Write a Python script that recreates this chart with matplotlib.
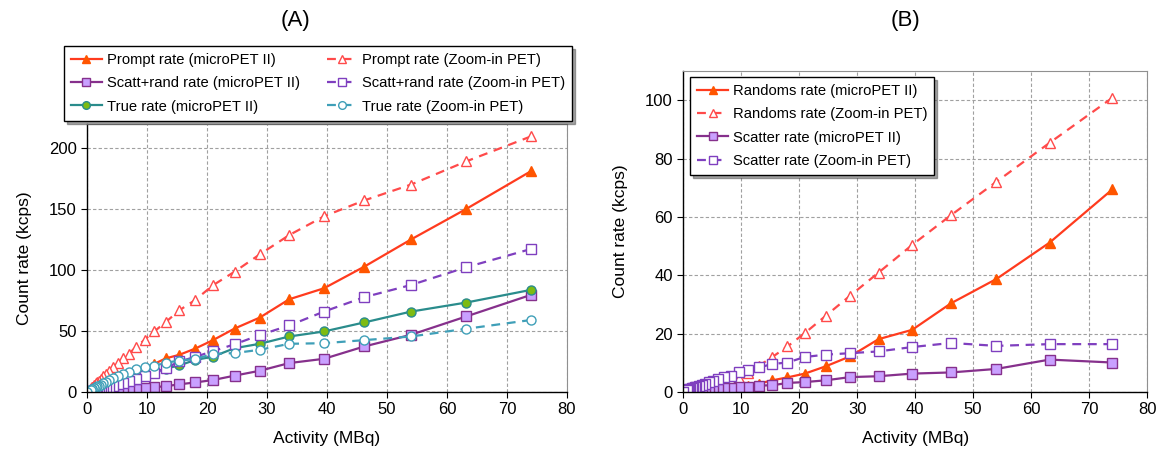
import matplotlib.pyplot as plt

plt.rcParams['font.family'] = ['Liberation Sans', 'DejaVu Sans']

# activity (MBq), shared by all series
activity = [74.0, 63.2, 54.0, 46.2, 39.5, 33.7, 28.8, 24.6, 21.0, 18.0, 15.4, 13.1,
            11.2, 9.6, 8.2, 7.0, 6.0, 5.1, 4.4, 3.7, 3.2, 2.7, 2.3, 2.0, 1.7, 1.5,
            1.2, 1.1, 0.9, 0.8, 0.7, 0.0]

# panel A (kcps)
prompt_micro = [181, 150, 125, 102.7, 85, 76, 61, 52, 42.5, 35.5, 30.5, 27.5,
                23, 20, 17, 14.5, 12.4, 10.5, 9.0, 7.6, 6.6, 5.6, 4.7, 4.1, 3.5, 3.1,
                2.5, 2.3, 1.9, 1.7, 1.4, 0]
prompt_zoom = [209.5, 189, 170, 157, 144, 128.6, 112.8, 98.6, 87.5, 75.3, 67, 57.2,
               49.6, 42.8, 37, 31.5, 27.5, 23.5, 20.5, 17.3, 15, 12.7, 10.8, 9.4, 8, 7,
               5.7, 5.2, 4.3, 3.8, 3.3, 0]
scatt_micro = [79.6, 61.9, 46.9, 37.3, 27.2, 23.7, 17.4, 13.4, 9.8, 7.8, 6.3, 4.7,
               4.0, 3.2, 2.6, 2.1, 1.7, 1.3, 1.1, 0.9, 0.7, 0.6, 0.5, 0.4, 0.3, 0.3,
               0.2, 0.2, 0.1, 0.1, 0.1, 0]
scatt_zoom = [117.2, 102.2, 87.7, 77.7, 65.9, 54.5, 46.7, 39.1, 33.5, 28.7, 25, 19.5,
              15.5, 13, 11, 9, 7.5, 6.3, 5.3, 4.4, 3.8, 3.2, 2.7, 2.3, 2.0, 1.7,
              1.4, 1.2, 1.0, 0.9, 0.8, 0]
true_micro = [83.7, 73.3, 65.9, 57, 49.6, 45.5, 39.5, 35.9, 29, 26.2, 21.8, 19.2,
              16, 13.6, 11.5, 9.8, 8.5, 7.2, 6.2, 5.2, 4.5, 3.8, 3.3, 2.8, 2.4, 2.1,
              1.7, 1.6, 1.3, 1.1, 1.0, 0]
true_zoom = [59, 51.8, 45.5, 42.5, 40, 39.5, 34.6, 31.9, 31.2, 27, 25.7, 24,
             21.5, 20.4, 18.5, 16.2, 14.8, 13, 11.5, 9.8, 8.5, 7.2, 6.1, 5.3, 4.5, 4.0,
             3.2, 2.9, 2.4, 2.1, 1.9, 0]

# panel B (kcps)
randoms_micro = [69.4, 51.2, 38.7, 30.4, 21.3, 18.1, 12.2, 8.8, 6.3, 5.0, 4.0, 2.9,
                 2.2, 1.7, 1.3, 0.95, 0.7, 0.5, 0.4, 0.3, 0.2, 0.15, 0.1, 0.1, 0.1, 0.05,
                 0.05, 0.05, 0.0, 0.0, 0.0, 0]
randoms_zoom = [100.8, 85.4, 72, 60.6, 50.4, 40.9, 33, 26.1, 20.2, 15.6, 12, 9.0,
                6.5, 4.9, 3.7, 2.8, 2.1, 1.6, 1.2, 0.9, 0.7, 0.5, 0.4, 0.3, 0.2, 0.2,
                0.1, 0.1, 0.1, 0.1, 0.0, 0]
scatter_micro = [10.1, 11.1, 7.9, 6.7, 6.3, 5.4, 5.1, 4.0, 3.4, 3.1, 2.3, 2.2,
                 1.8, 1.6, 1.4, 1.2, 1.0, 0.85, 0.75, 0.65, 0.55, 0.45, 0.4, 0.35, 0.3, 0.25,
                 0.2, 0.2, 0.15, 0.13, 0.12, 0]
scatter_zoom = [16.4, 16.4, 15.8, 16.8, 15.4, 13.9, 13.3, 12.8, 12.0, 10.1, 9.6, 8.4,
                7.6, 6.7, 5.6, 5.0, 4.4, 3.8, 3.3, 2.8, 2.5, 2.1, 1.8, 1.6, 1.4, 1.2,
                1.0, 0.9, 0.75, 0.65, 0.6, 0]

RED = '#FF3B1E'
RED_FACE = '#FF5500'
RED_LIGHT = '#FF4A4A'
PURPLE = '#86308C'
PURPLE_FACE = '#C9A0FF'
PURPLE_DASH = '#7F3FBF'
TEAL = '#2A8C8C'
GREEN = '#7DBB12'
TEAL_LIGHT = '#3F9FB8'

fig = plt.figure(figsize=(11.68, 4.61), dpi=100)
axA = fig.add_axes([0.0745, 0.1497, 0.4109, 0.5822])
axB = fig.add_axes([0.5848, 0.1497, 0.3973, 0.6963])


def style_axes(ax, ymax, ystep):
    ax.set_xlim(0, 80)
    ax.set_ylim(0, ymax)
    ax.set_xticks(range(0, 81, 10))
    ax.set_yticks(range(0, ymax, ystep))
    ax.grid(True, color='#A0A0A0', linestyle=(0, (3, 2)), linewidth=0.8)
    ax.set_axisbelow(True)
    for s in ('top', 'right'):
        ax.spines[s].set_color('#909090')
        ax.spines[s].set_linewidth(0.8)
    for s in ('left', 'bottom'):
        ax.spines[s].set_linewidth(1.0)
    ax.tick_params(labelsize=12, direction='out', length=4)
    ax.set_xlabel('Activity (MBq)', fontsize=12.5, labelpad=10)
    ax.set_ylabel('Count rate (kcps)', fontsize=12.5, labelpad=12)


def add_legend(ax, anchor, ncol):
    leg = fig.legend(*ax.get_legend_handles_labels(), loc='upper left',
                     bbox_to_anchor=anchor, ncol=ncol, fontsize=10.6,
                     frameon=True, fancybox=False, shadow=True, edgecolor='black',
                     handlelength=2.05, handletextpad=0.34, columnspacing=1.85,
                     labelspacing=0.62, borderaxespad=0, borderpad=0.5,
                     markerscale=0.85)
    leg.get_frame().set_linewidth(1.0)
    return leg


ms = 6.5
# panel A
axA.plot(activity, prompt_micro, '-^', color=RED, mfc=RED_FACE, mec=RED_FACE, ms=ms, lw=1.6,
         label='Prompt rate (microPET II)')
axA.plot(activity, scatt_micro, '-s', color=PURPLE, mfc=PURPLE_FACE, mec=PURPLE, ms=ms, lw=1.6,
         label='Scatt+rand rate (microPET II)')
axA.plot(activity, true_micro, '-o', color=TEAL, mfc=GREEN, mec=TEAL, ms=ms, lw=1.6,
         label='True rate (microPET II)')
axA.plot(activity, prompt_zoom, '--^', color=RED_LIGHT, mfc='white', mec=RED_LIGHT, ms=ms + 1, lw=1.6,
         dashes=(4, 3), label='Prompt rate (Zoom-in PET)')
axA.plot(activity, scatt_zoom, '--s', color=PURPLE_DASH, mfc='white', mec=PURPLE_DASH, ms=ms, lw=1.6,
         dashes=(4, 3), label='Scatt+rand rate (Zoom-in PET)')
axA.plot(activity, true_zoom, '--o', color=TEAL_LIGHT, mfc='white', mec=TEAL_LIGHT, ms=ms, lw=1.6,
         dashes=(4, 3), label='True rate (Zoom-in PET)')
style_axes(axA, 220, 50)
add_legend(axA, (0.0548, 0.9002), 2)

# panel B
axB.plot(activity, randoms_micro, '-^', color=RED, mfc=RED_FACE, mec=RED_FACE, ms=ms, lw=1.6,
         label='Randoms rate (microPET II)')
axB.plot(activity, randoms_zoom, '--^', color=RED_LIGHT, mfc='white', mec=RED_LIGHT, ms=ms + 1, lw=1.6,
         dashes=(4, 3), label='Randoms rate (Zoom-in PET)')
axB.plot(activity, scatter_micro, '-s', color=PURPLE, mfc=PURPLE_FACE, mec=PURPLE, ms=ms, lw=1.6,
         label='Scatter rate (microPET II)')
axB.plot(activity, scatter_zoom, '--s', color=PURPLE_DASH, mfc='white', mec=PURPLE_DASH, ms=ms, lw=1.6,
         dashes=(4, 3), label='Scatter rate (Zoom-in PET)')
style_axes(axB, 110, 20)
axB.set_yticks(range(0, 101, 20))
add_legend(axB, (0.5908, 0.833), 1)

fig.text(0.253, 0.955, '(A)', fontsize=16, ha='center', va='center')
fig.text(0.775, 0.955, '(B)', fontsize=16, ha='center', va='center')

fig.savefig('out.png', dpi=100)
